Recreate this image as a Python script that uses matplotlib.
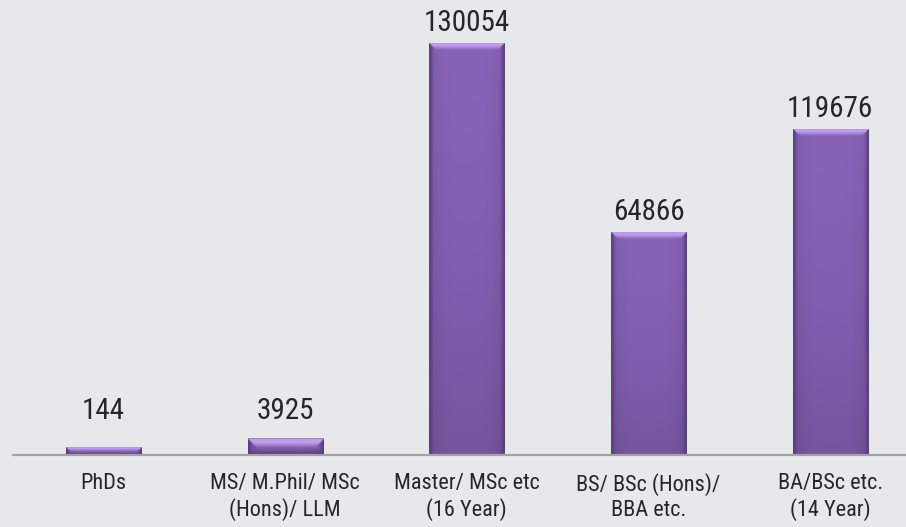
import numpy as np
import matplotlib
matplotlib.use("Agg")
import matplotlib.pyplot as plt

# ---- data ----
categories = ["PhDs", "MS/ M.Phil/ MSc\n(Hons)/ LLM", "Master/ MSc etc\n(16 Year)",
              "BS/ BSc (Hons)/\nBBA etc.", "BA/BSc etc.\n(14 Year)"]
values = [144, 3925, 130054, 64866, 119676]            # printed data labels
bar_lengths = [2620, 5270, 130054, 70340, 102920]       # bar heights as drawn in the picture

plt.rcParams['font.family'] = ['Roboto Condensed', 'Roboto', 'DejaVu Sans']

W, H, DPI = 906, 527, 100
bg = '#e7e8ea'
fig = plt.figure(figsize=(W / DPI, H / DPI), dpi=DPI, facecolor=bg)

# axes geometry in pixels
ax_left, ax_bottom = 12.6, 72.0
ax_w, ax_h = 908.5, 455.0
ax = fig.add_axes([ax_left / W, ax_bottom / H, ax_w / W, ax_h / H])
ax.set_facecolor(bg)
ax.patch.set_alpha(0)

ymax = 143500
ax.set_xlim(-0.5, len(categories) - 0.5)
ax.set_ylim(0, ymax)

bar_w = 0.413
px_per_unit = ax_h / ymax
bar_px = bar_w * ax_w / len(categories)

face = np.array([136, 99, 184]) / 255.0
light = np.array([190, 158, 235]) / 255.0
dark = np.array([86, 58, 126]) / 255.0


def bar_image(wpx, hpx):
    nx = max(int(round(wpx)) * 2, 2)
    ny = max(int(round(hpx)) * 2, 2)
    xs = (np.arange(nx) + 0.5) / 2.0
    ys = (np.arange(ny) + 0.5) / 2.0   # from top
    X, Y = np.meshgrid(xs, ys)
    d_side = np.minimum(X, wpx - X)
    d_top = Y
    d_bot = hpx - Y
    img = np.tile(face, (ny, nx, 1)).astype(float)
    t = 1 - (np.abs(X - wpx / 2) / (wpx / 2)) ** 4
    img *= (0.9 + 0.1 * t)[..., None]
    v = np.clip(Y / max(hpx, 1), 0, 1)
    img *= (1.0 - 0.14 * v ** 1.5)[..., None]
    side = d_side < 5
    fs = np.clip(d_side / 5.0, 0, 1)
    side_col = dark[None, None, :] * (1 - fs[..., None]) + img * fs[..., None]
    img = np.where(side[..., None], side_col, img)
    tb = 8.0 if hpx > 20 else hpx * 0.6
    top = (d_top < tb) & (d_top <= d_side + 0.5)
    ft = np.clip(d_top / tb, 0, 1)
    prof = np.where(ft < 0.45, 1.0, 1 - (ft - 0.45) / 0.55)
    top_col = light[None, None, :] * prof[..., None] + img * (1 - prof[..., None])
    img = np.where(top[..., None], top_col, img)
    if hpx < 20:
        bb = hpx * 0.35
        bot = (d_bot < bb) & (d_bot <= d_side + 0.5)
        fb = np.clip(d_bot / bb, 0, 1)
        bot_col = dark[None, None, :] * (1 - fb[..., None]) + img * fb[..., None]
        img = np.where(bot[..., None], bot_col, img)
    edge = d_top < 1.0
    img = np.where(edge[..., None], img * 0.82, img)
    return np.clip(img, 0, 1)


x = np.arange(len(categories))
bars = ax.bar(x, bar_lengths, width=bar_w, color=face, zorder=2)
for b, h in zip(bars, bar_lengths):
    x0 = b.get_x()
    img = bar_image(bar_px, h * px_per_unit)
    im = ax.imshow(img, extent=[x0, x0 + bar_w, 0, h], aspect='auto',
                   interpolation='bilinear', zorder=3)
    im.set_clip_path(b)

# data labels (short bars keep their labels at a minimum height, as in the source)
min_label_h = 24 / px_per_unit
for xi, h, v in zip(x, bar_lengths, values):
    ax.annotate(f"{v}", (xi, max(h, min_label_h)), xytext=(0, 8.5),
                textcoords='offset points', ha='center', va='baseline',
                fontsize=21, color='#262626')

ax.set_xticks(x)
ax.set_xticklabels(categories, fontsize=16, color='#262626', linespacing=1.22)
ax.tick_params(axis='x', length=0, pad=13)
ax.set_yticks([])
for s in ['top', 'right', 'left']:
    ax.spines[s].set_visible(False)
ax.spines['bottom'].set_color('#a3a3a3')
ax.spines['bottom'].set_linewidth(1.6)
ax.spines['bottom'].set_zorder(4)

fig.savefig('out.png', dpi=DPI, facecolor=bg)
